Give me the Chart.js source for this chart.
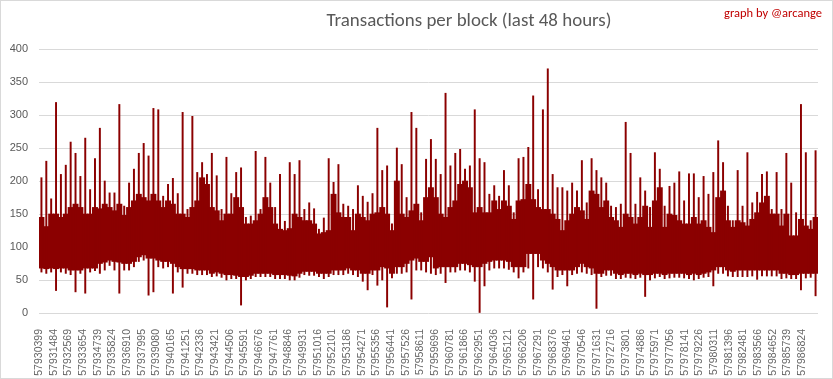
<!DOCTYPE html>
<html><head><meta charset="utf-8">
<script src="https://cdn.jsdelivr.net/npm/chart.js@4/dist/chart.umd.min.js"></script>
<style>html,body{margin:0;padding:0;background:#fff;} #wrap{position:relative;width:833px;height:379px;}</style>
</head><body><div id="wrap"><canvas id="c" width="833" height="379"></canvas></div>
<script>
const chartTitle = "Transactions per block (last 48 hours)";
const credit = "graph by @arcange";
const firstBlock = 57930399;
const blocksPerBucket = 360;
const xLabels = [57930399,57931484,57932569,57933654,57934739,57935824,57936910,57937995,57939080,57940165,57941251,57942336,57943421,57944506,57945591,57946676,57947761,57948846,57949931,57951016,57952101,57953186,57954271,57955356,57956441,57957526,57958611,57959696,57960781,57961866,57962951,57964036,57965121,57966206,57967291,57968376,57969461,57970546,57971631,57972716,57973801,57974886,57975971,57977056,57978141,57979226,57980311,57981396,57982481,57983566,57984652,57985739,57986824];
const yTicks = [0,50,100,150,200,250,300,350,400];
// dense band (typical high / low of transactions per block in each group of blocks)
const bandHigh = [145,131,150,150,145,150,160,165,160,150,150,160,158,165,160,155,165,148,160,170,180,175,170,180,170,160,170,165,
150,150,145,160,170,205,195,160,155,140,150,150,175,160,135,135,140,150,175,160,135,127,125,128,150,145,
140,140,135,120,122,125,180,152,145,145,125,150,145,140,150,152,160,150,125,200,150,145,155,165,140,175,190,175,
150,145,160,170,195,200,190,152,160,152,152,170,157,170,162,142,170,172,195,172,160,157,157,150,142,125,
140,150,160,155,142,185,180,160,170,145,140,130,150,145,135,145,162,130,170,190,130,150,148,140,135,135,
145,135,140,130,122,175,185,140,130,140,137,132,142,152,167,177,150,150,132,150,117,117,142,132,127,145];
const bandLow = [68,67,68,67,68,68,65,65,65,68,68,68,75,77,80,78,77,75,75,78,85,88,83,83,80,78,78,75,
70,67,67,67,65,65,65,60,62,60,58,58,57,55,55,57,60,60,60,60,58,58,58,57,56,60,
63,63,63,60,60,60,65,65,65,68,65,65,60,60,65,65,70,68,60,70,70,75,80,83,78,78,85,68,
70,70,70,70,75,75,73,70,70,75,78,80,80,80,78,70,70,70,90,90,90,80,75,70,65,65,
65,65,70,75,70,68,60,60,65,65,60,58,60,60,58,60,58,58,60,60,58,60,60,60,60,58,
60,58,60,62,65,70,70,65,63,65,65,65,65,65,65,65,65,65,60,60,58,58,60,60,60,60];
// extremes (highest / lowest single block in each group)
const peakHigh = [205,230,173,319,210,224,259,242,207,265,187,234,280,200,182,182,316,162,197,218,242,257,238,310,308,177,195,204,
181,304,157,298,213,228,210,242,208,157,236,181,213,220,145,147,245,157,236,197,160,210,139,228,210,231,
157,167,158,127,144,234,198,225,165,162,157,193,177,168,181,280,216,223,135,250,225,175,304,280,152,233,263,233,
210,333,223,242,248,218,223,308,234,228,180,193,177,216,193,152,234,236,251,329,187,308,370,210,190,190,
185,197,185,231,167,234,216,205,197,162,160,165,289,242,165,205,185,160,243,218,162,192,197,214,170,211,
211,175,207,180,213,261,228,162,140,216,162,243,167,183,210,214,157,213,157,242,197,152,316,243,140,246];
const peakLow = [62,60,62,34,62,60,58,32,60,30,62,64,60,65,72,65,30,65,65,70,78,80,27,32,70,68,70,30,
62,39,60,60,58,58,58,55,56,54,50,52,52,12,50,52,55,55,55,55,52,52,52,50,50,54,
58,57,57,55,52,55,58,58,58,60,58,55,48,35,58,42,50,9,53,60,60,62,21,65,65,62,60,58,
60,46,62,62,65,65,62,48,0,41,65,68,68,68,66,62,53,62,68,21,70,68,62,36,55,58,
41,58,60,62,60,58,7,55,57,57,52,52,54,53,52,54,25,50,53,55,52,53,54,54,53,52,
50,52,54,55,41,60,60,56,55,55,55,55,56,51,56,56,56,56,52,53,52,52,35,53,54,26];

const centers = bandHigh.map((_, i) => firstBlock + (i + 0.5) * blocksPerBucket);
const bandData = centers.map((x, i) => ({x: x, y: [bandLow[i], bandHigh[i]]}));
const peakData = centers.map((x, i) => ({x: x, y: [peakLow[i], peakHigh[i]]}));

const barColor = '#8B0000';
const decor = {
  id: 'decor',
  beforeDraw(chart) {
    const c = chart.ctx;
    c.save(); c.fillStyle = '#fff'; c.fillRect(0, 0, chart.width, chart.height); c.restore();
  },
  afterDraw(chart) {
    const c = chart.ctx;
    c.save();
    c.strokeStyle = '#d9d9d9'; c.lineWidth = 1;
    c.strokeRect(0.5, 0.5, chart.width - 1, chart.height - 1);
    c.fillStyle = '#595959';
    c.font = '19px Carlito, Calibri, Lato, sans-serif';
    c.textAlign = 'center'; c.textBaseline = 'alphabetic';
    c.fillText(chartTitle, 469, 26, 285);
    c.fillStyle = '#c00000';
    c.font = '12.5px Carlito, Calibri, Lato, sans-serif';
    c.textAlign = 'right';
    c.fillText(credit, 822, 17, 106);
    c.restore();
  }
};

new Chart(document.getElementById('c').getContext('2d'), {
  type: 'bar',
  data: { datasets: [
    { data: peakData, backgroundColor: barColor, borderWidth: 0, barThickness: 1.3, grouped: false },
    { data: bandData, backgroundColor: barColor, borderWidth: 0, barThickness: 5.3, grouped: false }
  ]},
  options: {
    responsive: false, animation: false, devicePixelRatio: 1,
    layout: { padding: { top: 49, right: 15, left: 0, bottom: 0 } },
    plugins: { legend: { display: false }, tooltip: { enabled: false }, title: { display: false } },
    scales: {
      x: {
        type: 'linear', min: firstBlock, max: firstBlock + bandHigh.length * blocksPerBucket, offset: false,
        grid: { display: false }, border: { display: false },
        afterBuildTicks: s => { s.ticks = xLabels.map(v => ({ value: v })); },
        afterFit: s => { s.height = 66; },
        ticks: { autoSkip: false, minRotation: 90, maxRotation: 90, padding: 8, color: '#666666',
                 font: { family: 'Liberation Sans', size: 10.5 }, callback: v => String(v) }
      },
      y: {
        min: 0, max: 400,
        afterBuildTicks: s => { s.ticks = yTicks.map(v => ({ value: v })); },
        afterFit: s => { s.width = 39; },
        grid: { color: '#d9d9d9', drawTicks: false, lineWidth: 1 }, border: { display: false },
        ticks: { padding: 11, color: '#595959', font: { family: 'Liberation Sans', size: 11 } }
      }
    }
  },
  plugins: [decor]
});
</script></body></html>
